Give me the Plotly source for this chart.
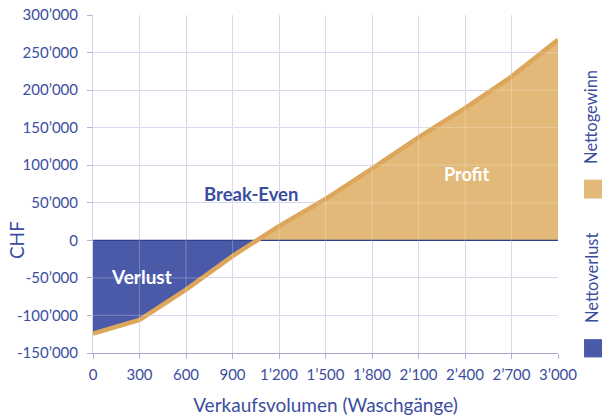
import numpy as np
import plotly.graph_objects as go

# Data
volume = [0, 300, 600, 900, 1200, 1500, 1800, 2100, 2400, 2700, 3000]
profit = [-124000, -106000, -65500, -21000, 19000, 55000, 95500, 137000, 176000, 218000, 267000]
x_ticks = [0, 300, 600, 900, 1200, 1500, 1800, 2100, 2400, 2700, 3000]
x_labels = ["0", "300", "600", "900", "1’200", "1’500", "1’800", "2’100", "2’400", "2’700", "3’000"]
y_ticks = [-150000, -100000, -50000, 0, 50000, 100000, 150000, 200000, 250000, 300000]
y_labels = ["-150’000", "-100’000", "-50’000", "0", "50’000", "100’000", "150’000", "200’000", "250’000", "300’000"]

BLUE = "#4A59A8"
GOLD_FILL = "#E2B978"
GOLD_LINE = "#DCA65B"
TXT = "#3B4DA0"
GRID = "#D2CFEB"
FONT = "Lato"

x = np.array(volume, dtype=float)
y = np.array(profit, dtype=float)
# break-even by interpolation of the sign change
i = int(np.where(np.diff(np.sign(y)) > 0)[0][0])
xb = x[i] - y[i] * (x[i + 1] - x[i]) / (y[i + 1] - y[i])

loss_x = list(x[: i + 1]) + [xb]
loss_y = list(y[: i + 1]) + [0.0]
gain_x = [xb] + list(x[i + 1:])
gain_y = [0.0] + list(y[i + 1:])

fig = go.Figure()
fig.add_trace(go.Scatter(x=loss_x, y=loss_y, fill="tozeroy", fillcolor=BLUE,
                         mode="lines", line=dict(width=0, color=BLUE),
                         showlegend=False, hoverinfo="skip"))
fig.add_trace(go.Scatter(x=gain_x, y=gain_y, fill="tozeroy", fillcolor=GOLD_FILL,
                         mode="lines", line=dict(width=0, color=GOLD_FILL),
                         showlegend=False, hoverinfo="skip"))
fig.add_trace(go.Scatter(x=[x_ticks[0], x_ticks[-1]], y=[0, 0], mode="lines",
                         line=dict(width=1.2, color="#2F3F8E"),
                         showlegend=False, hoverinfo="skip"))
fig.add_trace(go.Scatter(x=volume, y=profit, mode="lines",
                         line=dict(width=4.5, color=GOLD_LINE),
                         showlegend=False))

# light overlay on grid lines so they show through the filled areas
shapes = []
for t in x_ticks[1:-1]:
    shapes.append(dict(type="line", xref="x", yref="y", x0=t, x1=t,
                       y0=y_ticks[0], y1=y_ticks[-1], layer="above",
                       line=dict(color="rgba(255,255,255,0.22)", width=1.2)))
for t in y_ticks[1:]:
    if t == 0:
        continue
    shapes.append(dict(type="line", xref="x", yref="y", y0=t, y1=t,
                       x0=x_ticks[0], x1=x_ticks[-1], layer="above",
                       line=dict(color="rgba(255,255,255,0.22)", width=1.2)))
# legend swatches
shapes.append(dict(type="rect", xref="paper", yref="paper", x0=1.056, x1=1.095,
                   y0=0.457, y1=0.513, fillcolor=GOLD_FILL, line=dict(width=0)))
shapes.append(dict(type="rect", xref="paper", yref="paper", x0=1.056, x1=1.095,
                   y0=-0.013, y1=0.041, fillcolor=BLUE, line=dict(width=0)))

annotations = [
    dict(text="Break-Even", x=1022, y=61700, xref="x", yref="y", showarrow=False,
         font=dict(family=FONT, size=18.5, color=TXT, weight="bold")),
    dict(text="Verlust", x=315, y=-47500, xref="x", yref="y", showarrow=False,
         font=dict(family=FONT, size=19, color="white", weight="bold")),
    dict(text="Profit", x=2408, y=88400, xref="x", yref="y", showarrow=False,
         font=dict(family=FONT, size=18, color="white", weight="bold")),
    dict(text="CHF", x=-0.164, y=0, xref="paper", yref="y", showarrow=False,
         xanchor="center", yanchor="middle",
         textangle=-90, font=dict(family=FONT, size=19, color=TXT)),
    dict(text="Nettogewinn", x=1.072, y=0.70, xref="paper", yref="paper",
         xanchor="center", yanchor="middle", borderpad=0,
         showarrow=False, textangle=-90, font=dict(family=FONT, size=16.5, color=TXT)),
    dict(text="Nettoverlust", x=1.072, y=0.223, xref="paper", yref="paper",
         xanchor="center", yanchor="middle", borderpad=0,
         showarrow=False, textangle=-90, font=dict(family=FONT, size=16.5, color=TXT)),
]

fig.update_layout(
    width=602, height=416,
    margin=dict(l=93, r=44, t=15, b=63, autoexpand=False),
    paper_bgcolor="white", plot_bgcolor="white",
    font=dict(family=FONT, color=TXT),
    shapes=shapes, annotations=annotations,
    xaxis=dict(range=[x_ticks[0], x_ticks[-1]], tickvals=x_ticks, ticktext=x_labels,
               showgrid=True, gridcolor=GRID, gridwidth=1, zeroline=False,
               showline=True, linecolor="#A9A6D6", linewidth=1.2,
               ticks="outside", ticklen=5, tickcolor="#B3B0DD",
               ticklabelstandoff=3, automargin=False,
               tickfont=dict(family=FONT, size=15, color=TXT),
               title=dict(text="Verkaufsvolumen (Waschgänge)", standoff=16,
                          font=dict(family=FONT, size=19, color=TXT))),
    yaxis=dict(range=[y_ticks[0], y_ticks[-1]], tickvals=y_ticks, ticktext=y_labels,
               showgrid=True, gridcolor=GRID, gridwidth=1, zeroline=False,
               showline=True, linecolor=GRID, linewidth=1,
               ticks="outside", ticklen=5, tickcolor="#B3B0DD",
               ticklabelstandoff=6, automargin=False,
               tickfont=dict(family=FONT, size=15, color=TXT)),
)

fig.write_html("out.html", config={"displayModeBar": False},
               post_script="document.body.style.margin='0';")
